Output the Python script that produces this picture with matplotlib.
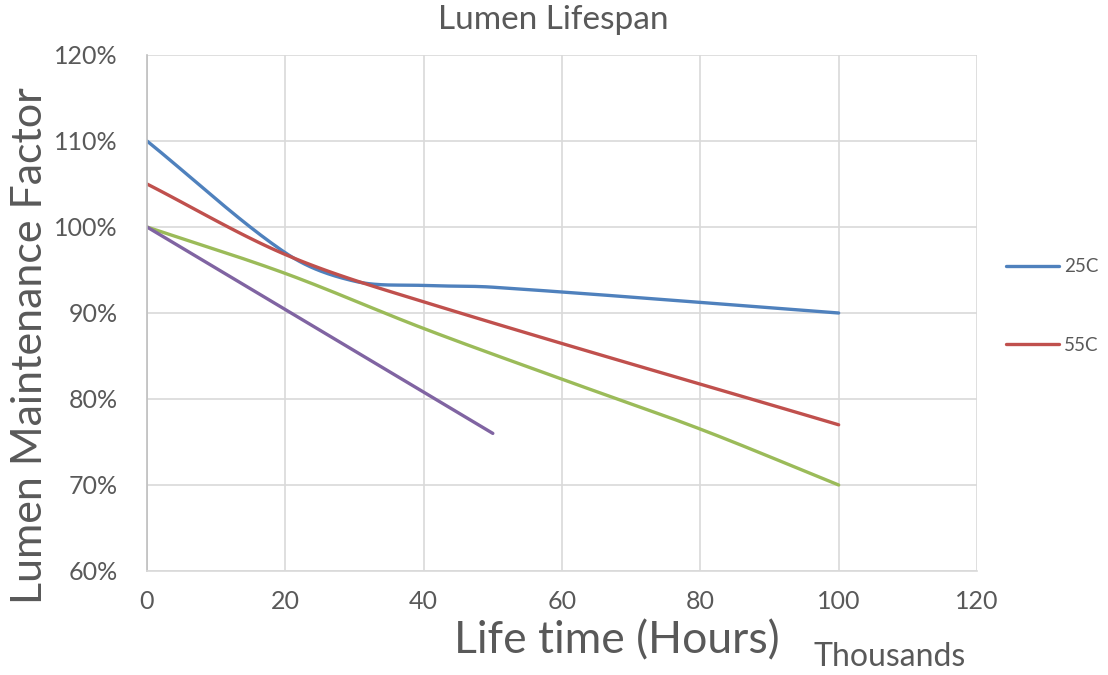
import numpy as np
import matplotlib
matplotlib.use("Agg")
import matplotlib.pyplot as plt

# ---- data (thousands of hours, lumen %) ----
x_25c = [0, 20, 30, 40, 50, 100]
y_25c = [110, 97, 93.7, 93.2, 93.0, 90]
x_55c = [0, 20, 40, 100]
y_55c = [105, 96.8, 91.3, 77]
x_s3 = [0, 20, 40, 60, 80, 100]
y_s3 = [100, 94.6, 88.2, 82.3, 76.5, 70]
x_s4 = [0, 50]
y_s4 = [100, 76]
series_labels = ["25C", "55C"]
xticks = [0, 20, 40, 60, 80, 100, 120]
yticks = [60, 70, 80, 90, 100, 110, 120]

FONT = "Lato"
GRAY = "#595959"


def smooth(xs, ys, n=40):
    """Smoothed line through the points (cubic Hermite, like Excel's smoothing)."""
    x = np.asarray(xs, float)
    y = np.asarray(ys, float)
    if len(x) < 3:
        return x, y
    m = np.empty_like(y)
    m[0] = (y[1] - y[0]) / (x[1] - x[0])
    m[-1] = (y[-1] - y[-2]) / (x[-1] - x[-2])
    m[1:-1] = (y[2:] - y[:-2]) / (x[2:] - x[:-2])
    X, Y = [], []
    for i in range(len(x) - 1):
        h = x[i + 1] - x[i]
        t = np.linspace(0, 1, n)
        h00 = 2 * t**3 - 3 * t**2 + 1
        h10 = t**3 - 2 * t**2 + t
        h01 = -2 * t**3 + 3 * t**2
        h11 = t**3 - t**2
        yy = h00 * y[i] + h10 * h * m[i] + h01 * y[i + 1] + h11 * h * m[i + 1]
        xx = x[i] + t * h
        if i > 0:
            xx, yy = xx[1:], yy[1:]
        X.append(xx)
        Y.append(yy)
    return np.concatenate(X), np.concatenate(Y)


fig = plt.figure(figsize=(11.08, 6.75), dpi=100)
ax = fig.add_axes([147 / 1108, 1 - 571 / 675, (977 - 147) / 1108, (571 - 55) / 675])

lw = 2.4
l1, = ax.plot(*smooth(x_25c, y_25c), color="#4F81BD", lw=lw, solid_capstyle="round", label=series_labels[0])
l2, = ax.plot(*smooth(x_55c, y_55c), color="#C0504D", lw=lw, solid_capstyle="round", label=series_labels[1])
ax.plot(*smooth(x_s3, y_s3), color="#9BBB59", lw=lw, solid_capstyle="round")
ax.plot(x_s4, y_s4, color="#8064A2", lw=lw, solid_capstyle="round")

ax.set_xlim(0, 120)
ax.set_ylim(60, 120)
ax.set_xticks(xticks)
ax.set_yticks(yticks)
ax.set_xticklabels([str(v) for v in xticks], fontsize=18, color=GRAY, family=FONT)
ax.set_yticklabels([f"{v}%" for v in yticks], fontsize=18, color=GRAY, family=FONT)
ax.tick_params(axis="y", length=0, pad=21)
ax.tick_params(axis="x", length=0, pad=14)
ax.grid(True, color="#D9D9D9", lw=1.2)
ax.set_axisbelow(True)
for s in ["top", "right"]:
    ax.spines[s].set_visible(False)
ax.spines["left"].set_color("#BFBFBF")
ax.spines["left"].set_linewidth(1.2)
ax.spines["bottom"].set_color("#D9D9D9")
ax.spines["bottom"].set_linewidth(1.2)

fig.text(553 / 1108, 1 - 20 / 675, "Lumen Lifespan", ha="center", va="center",
         fontsize=24, color=GRAY, family=FONT)
fig.text(30 / 1108, 1 - 346 / 675, "Lumen Maintenance Factor", ha="center", va="center",
         rotation=90, fontsize=31, color=GRAY, family=FONT)
fig.text(617 / 1108, 1 - 641 / 675, "Life time (Hours)", ha="center", va="center",
         fontsize=32, color=GRAY, family=FONT)
fig.text(890 / 1108, 1 - 657 / 675, "Thousands", ha="center", va="center",
         fontsize=23, color=GRAY, family=FONT)

leg = fig.legend(handles=[l1, l2], loc="center left", bbox_to_anchor=(1006 / 1108, 1 - 306 / 675),
                 frameon=False, handlelength=2.8, labelspacing=3.3, borderpad=0, borderaxespad=0,
                 handletextpad=0.3, prop={"family": FONT, "size": 13.5})
for t in leg.get_texts():
    t.set_color(GRAY)

fig.savefig("out.png", dpi=100)
